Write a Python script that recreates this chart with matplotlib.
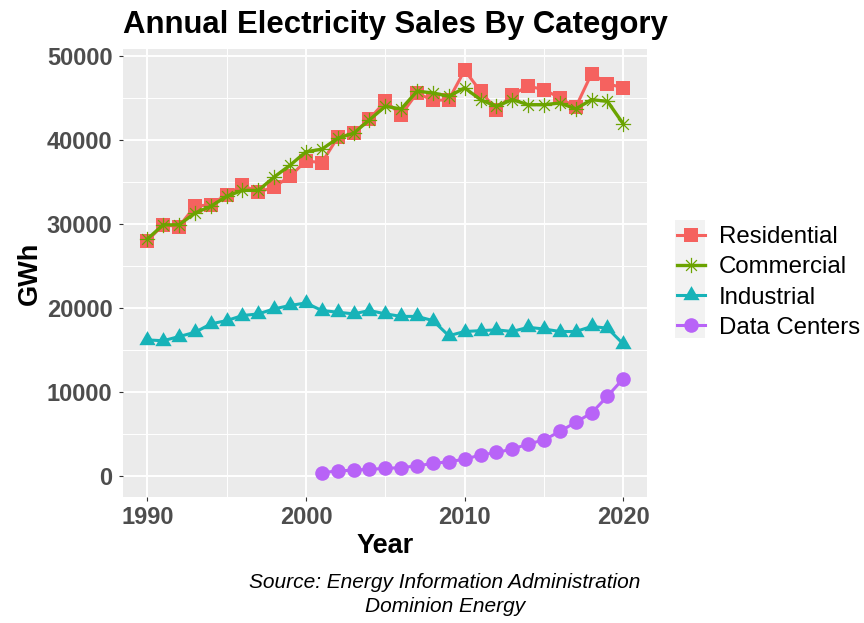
import numpy as np
import matplotlib
matplotlib.use("Agg")
import matplotlib.pyplot as plt
from matplotlib.path import Path
from matplotlib.patches import Rectangle

plt.rcParams['font.family'] = ['Liberation Sans', 'DejaVu Sans']

years = list(range(1990, 2021))
residential = [28.0, 29.9, 29.7, 32.1, 32.3, 33.5, 34.6, 33.8, 34.4, 35.7,
               37.5, 37.3, 40.3, 40.8, 42.5, 44.6, 43.0, 45.6, 44.7, 44.8,
               48.3, 45.8, 43.6, 45.4, 46.4, 46.0, 45.0, 43.9, 47.9, 46.7, 46.2]
commercial = [28.2, 29.9, 29.9, 31.3, 32.1, 33.3, 34.0, 34.0, 35.6, 37.0,
              38.6, 38.9, 40.2, 40.8, 42.4, 44.0, 43.7, 45.8, 45.6, 45.2,
              46.2, 44.8, 44.0, 44.8, 44.2, 44.2, 44.4, 43.7, 44.8, 44.6, 41.9]
industrial = [16.2, 16.1, 16.6, 17.1, 18.1, 18.5, 19.1, 19.3, 19.9, 20.3,
              20.6, 19.7, 19.5, 19.3, 19.7, 19.3, 19.0, 19.0, 18.5, 16.7,
              17.2, 17.3, 17.4, 17.2, 17.7, 17.5, 17.2, 17.2, 17.8, 17.6, 15.7]
dc_years = list(range(2001, 2021))
data_centers = [0.4, 0.6, 0.7, 0.8, 0.9, 1.0, 1.2, 1.5, 1.7, 2.0,
                2.5, 2.8, 3.2, 3.8, 4.3, 5.3, 6.4, 7.5, 9.5, 11.6]

labels = ['Residential', 'Commercial', 'Industrial', 'Data Centers']
colors = ['#F5625F', '#6BA300', '#17B3B8', '#B863F7']

def _asterisk():
    # 8-spoke asterisk like R pch 8
    a = 1.0
    d = 1.0 / np.sqrt(2)
    verts = [(-a, 0), (a, 0), (0, -a), (0, a), (-d, -d), (d, d), (-d, d), (d, -d)]
    codes = [Path.MOVETO, Path.LINETO] * 4
    return Path(verts, codes)

def _triangle():
    h = np.sqrt(3) / 2
    verts = [(0, 2 * h / 3), (-0.5, -h / 3), (0.5, -h / 3), (0, 2 * h / 3)]
    codes = [Path.MOVETO, Path.LINETO, Path.LINETO, Path.CLOSEPOLY]
    return Path(verts, codes)

fig = plt.figure(figsize=(8.64, 6.23), dpi=100)
ax = fig.add_axes([123 / 864, 126 / 623, 524 / 864, 448 / 623])
ax.set_facecolor('#EBEBEB')

series = [
    (years, residential, dict(marker='s', markersize=10)),
    (years, commercial, dict(marker=_asterisk(), markersize=11, markeredgewidth=0.9)),
    (years, industrial, dict(marker=_triangle(), markersize=13.5)),
    (dc_years, data_centers, dict(marker='o', markersize=10.5)),
]
handles = []
for (x, y, mk), lab, col in zip(series, labels, colors):
    y = np.array(y) * 1000
    if lab == 'Commercial':
        h, = ax.plot(x, y, color=col, lw=2.4, label=lab, mec=col, mfc='none', **mk)
    else:
        h, = ax.plot(x, y, color=col, lw=2.2, label=lab, mec=col, mfc=col, mew=0, **mk)
    handles.append(h)

ax.set_xlim(1988.47, 2021.49)
ax.set_ylim(-2500, 50830)
ax.set_xticks([1990, 2000, 2010, 2020])
ax.set_xticks([1995, 2005, 2015], minor=True)
ax.set_yticks([0, 10000, 20000, 30000, 40000, 50000])
ax.set_yticks([5000, 15000, 25000, 35000, 45000], minor=True)
ax.grid(which='major', color='white', lw=1.4)
ax.grid(which='minor', color='white', lw=0.7)
ax.set_axisbelow(True)
for s in ax.spines.values():
    s.set_visible(False)
ax.tick_params(which='major', length=3, width=0.8, color='#333333', pad=4.5,
               labelsize=17, labelcolor='#4D4D4D')
ax.tick_params(axis='x', which='major', pad=3.5)
ax.tick_params(which='minor', length=0)
for t in ax.get_xticklabels() + ax.get_yticklabels():
    t.set_fontweight('bold')

ax.set_xlabel('Year', fontsize=19.5, fontweight='bold', labelpad=3)
ax.set_ylabel('GWh', fontsize=19.5, fontweight='bold', labelpad=2.5)
fig.text(123 / 864, 1 - 33 / 623, 'Annual Electricity Sales By Category',
         fontsize=22.4, fontweight='bold', ha='left', va='baseline')

fig.text(445 / 864, 1 - 588 / 623, 'Source: Energy Information Administration',
         fontsize=15, style='italic', ha='center', va='baseline')
fig.text(445 / 864, 1 - 612 / 623, 'Dominion Energy',
         fontsize=15, style='italic', ha='center', va='baseline')

fig.patches.append(Rectangle((675 / 864, 285 / 623), 30 / 864, 118 / 623,
                             transform=fig.transFigure, facecolor='#F2F2F2',
                             edgecolor='none', zorder=0))
fig.legend(handles=handles, loc='center left', bbox_to_anchor=(677 / 864, 1 - 282.5 / 623),
           frameon=False, fontsize=17.3, handlelength=1.15, handletextpad=0.6,
           labelspacing=0.34, borderpad=0, borderaxespad=0)

fig.savefig('out.png', dpi=100)
